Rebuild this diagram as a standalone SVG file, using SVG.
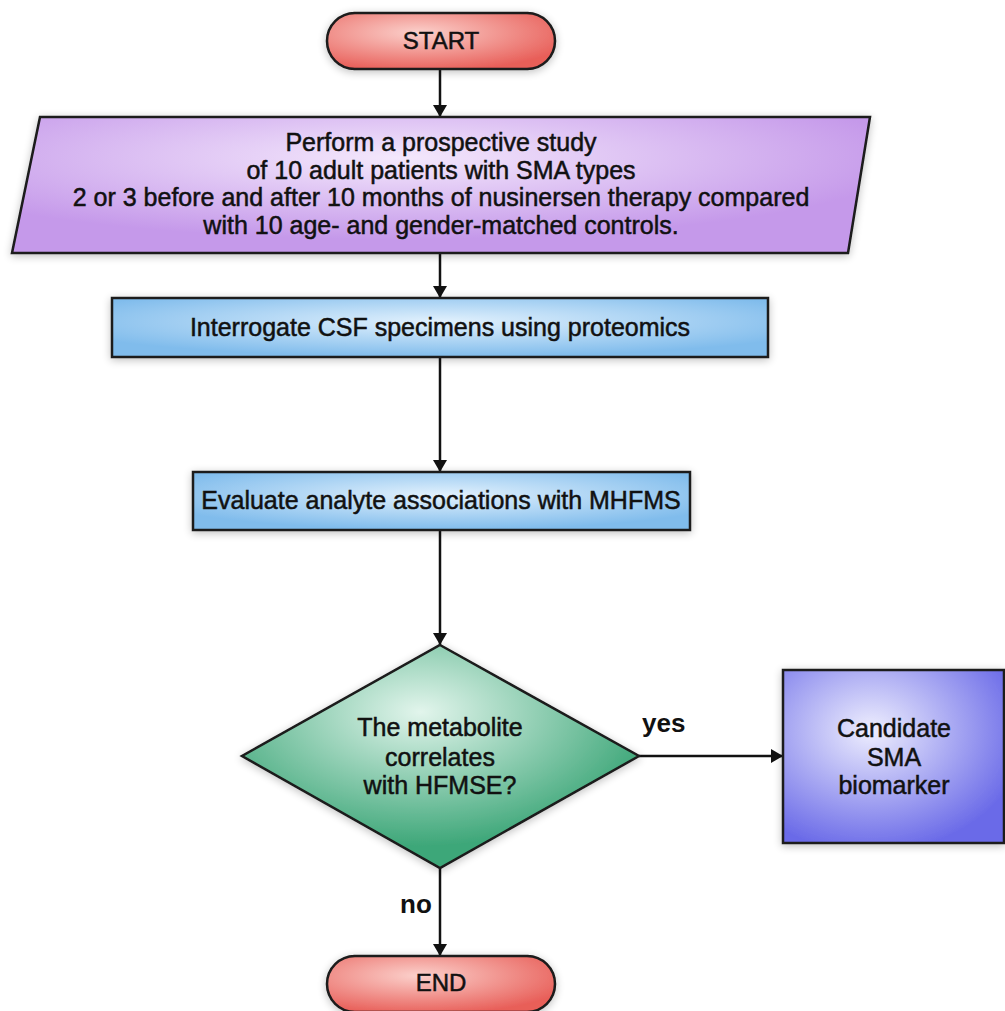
<svg xmlns="http://www.w3.org/2000/svg" width="1005" height="1011" viewBox="0 0 1005 1011">
<defs>
<radialGradient id="gRed" cx="0.4" cy="0.35" r="0.7"><stop offset="0" stop-color="#fbd0cb"/><stop offset="1" stop-color="#e85e58"/></radialGradient>
<radialGradient id="gPurple" cx="0.45" cy="0.3" r="0.6"><stop offset="0" stop-color="#f4e8fc"/><stop offset="1" stop-color="#c599ea"/></radialGradient>
<radialGradient id="gBlue" cx="0.5" cy="0.4" r="0.6"><stop offset="0" stop-color="#e2f1fd"/><stop offset="1" stop-color="#80bcec"/></radialGradient>
<radialGradient id="gGreen" cx="0.45" cy="0.3" r="0.6"><stop offset="0" stop-color="#e2f5ec"/><stop offset="1" stop-color="#3ea779"/></radialGradient>
<radialGradient id="gViolet" cx="0.4" cy="0.35" r="0.7"><stop offset="0" stop-color="#eeeefe"/><stop offset="1" stop-color="#6b6be8"/></radialGradient>
<filter id="sh" x="-10%" y="-20%" width="120%" height="140%"><feGaussianBlur in="SourceAlpha" stdDeviation="4"/><feOffset dx="0" dy="2"/><feComponentTransfer><feFuncA type="linear" slope="0.25"/></feComponentTransfer><feMerge><feMergeNode/><feMergeNode in="SourceGraphic"/></feMerge></filter>
<marker id="arr" viewBox="0 0 12 14" refX="12" refY="7" markerWidth="12" markerHeight="14" markerUnits="userSpaceOnUse" orient="auto"><path d="M0,0 L12,7 L0,14 Z" fill="#111"/></marker>
<style>
.shape{stroke:#1a1a1a;stroke-width:2.5;filter:url(#sh)}
.t{font-family:"Liberation Sans",Arial,sans-serif;font-size:25px;fill:#111;stroke:#111;stroke-width:0.5;text-anchor:middle}
.term{font-size:24px}
.lbl{font-family:"Liberation Sans",Arial,sans-serif;font-size:26px;font-weight:bold;fill:#111}
.conn{stroke:#111;stroke-width:2.5;fill:none}
</style>
</defs>
<rect width="1005" height="1011" fill="#ffffff"/>
<g id="connectors">
<line class="conn" x1="440" y1="69" x2="440" y2="117" marker-end="url(#arr)"/>
<line class="conn" x1="440" y1="253" x2="440" y2="298" marker-end="url(#arr)"/>
<line class="conn" x1="440" y1="357" x2="440" y2="472" marker-end="url(#arr)"/>
<line class="conn" x1="440" y1="530" x2="440" y2="645" marker-end="url(#arr)"/>
<line class="conn" x1="639" y1="756" x2="783" y2="756" marker-end="url(#arr)"/>
<line class="conn" x1="440" y1="868" x2="440" y2="956" marker-end="url(#arr)"/>
<text class="lbl" x="642" y="732">yes</text>
<text class="lbl" x="400" y="913">no</text>
</g>
<g id="start">
<rect class="shape" x="327" y="13" width="228" height="56" rx="28" fill="url(#gRed)"/>
<text class="t term" x="441" y="49">START</text>
</g>
<g id="study">
<polygon class="shape" points="40,117 870,117 848,253 12,253" fill="url(#gPurple)"/>
<text class="t" x="441" y="151">Perform a prospective study</text>
<text class="t" x="441" y="179">of 10 adult patients with SMA types</text>
<text class="t" x="441" y="206">2 or 3 before and after 10 months of nusinersen therapy compared</text>
<text class="t" x="441" y="234">with 10 age- and gender-matched controls.</text>
</g>
<g id="interrogate">
<rect class="shape" x="112" y="298" width="656" height="59" fill="url(#gBlue)"/>
<text class="t" x="440" y="336">Interrogate CSF specimens using proteomics</text>
</g>
<g id="evaluate">
<rect class="shape" x="193" y="472" width="497" height="58" fill="url(#gBlue)"/>
<text class="t" x="441" y="509">Evaluate analyte associations with MHFMS</text>
</g>
<g id="decision">
<polygon class="shape" points="440,645 639,756 440,868 242,756" fill="url(#gGreen)"/>
<text class="t" x="440" y="736">The metabolite</text>
<text class="t" x="440" y="766">correlates</text>
<text class="t" x="440" y="794">with HFMSE?</text>
</g>
<g id="candidate">
<rect class="shape" x="783" y="670" width="221" height="173" fill="url(#gViolet)"/>
<text class="t" x="894" y="737">Candidate</text>
<text class="t" x="894" y="766">SMA</text>
<text class="t" x="894" y="794">biomarker</text>
</g>
<g id="end">
<rect class="shape" x="327" y="956" width="228" height="56" rx="28" fill="url(#gRed)"/>
<text class="t term" x="441" y="991">END</text>
</g>
</svg>
